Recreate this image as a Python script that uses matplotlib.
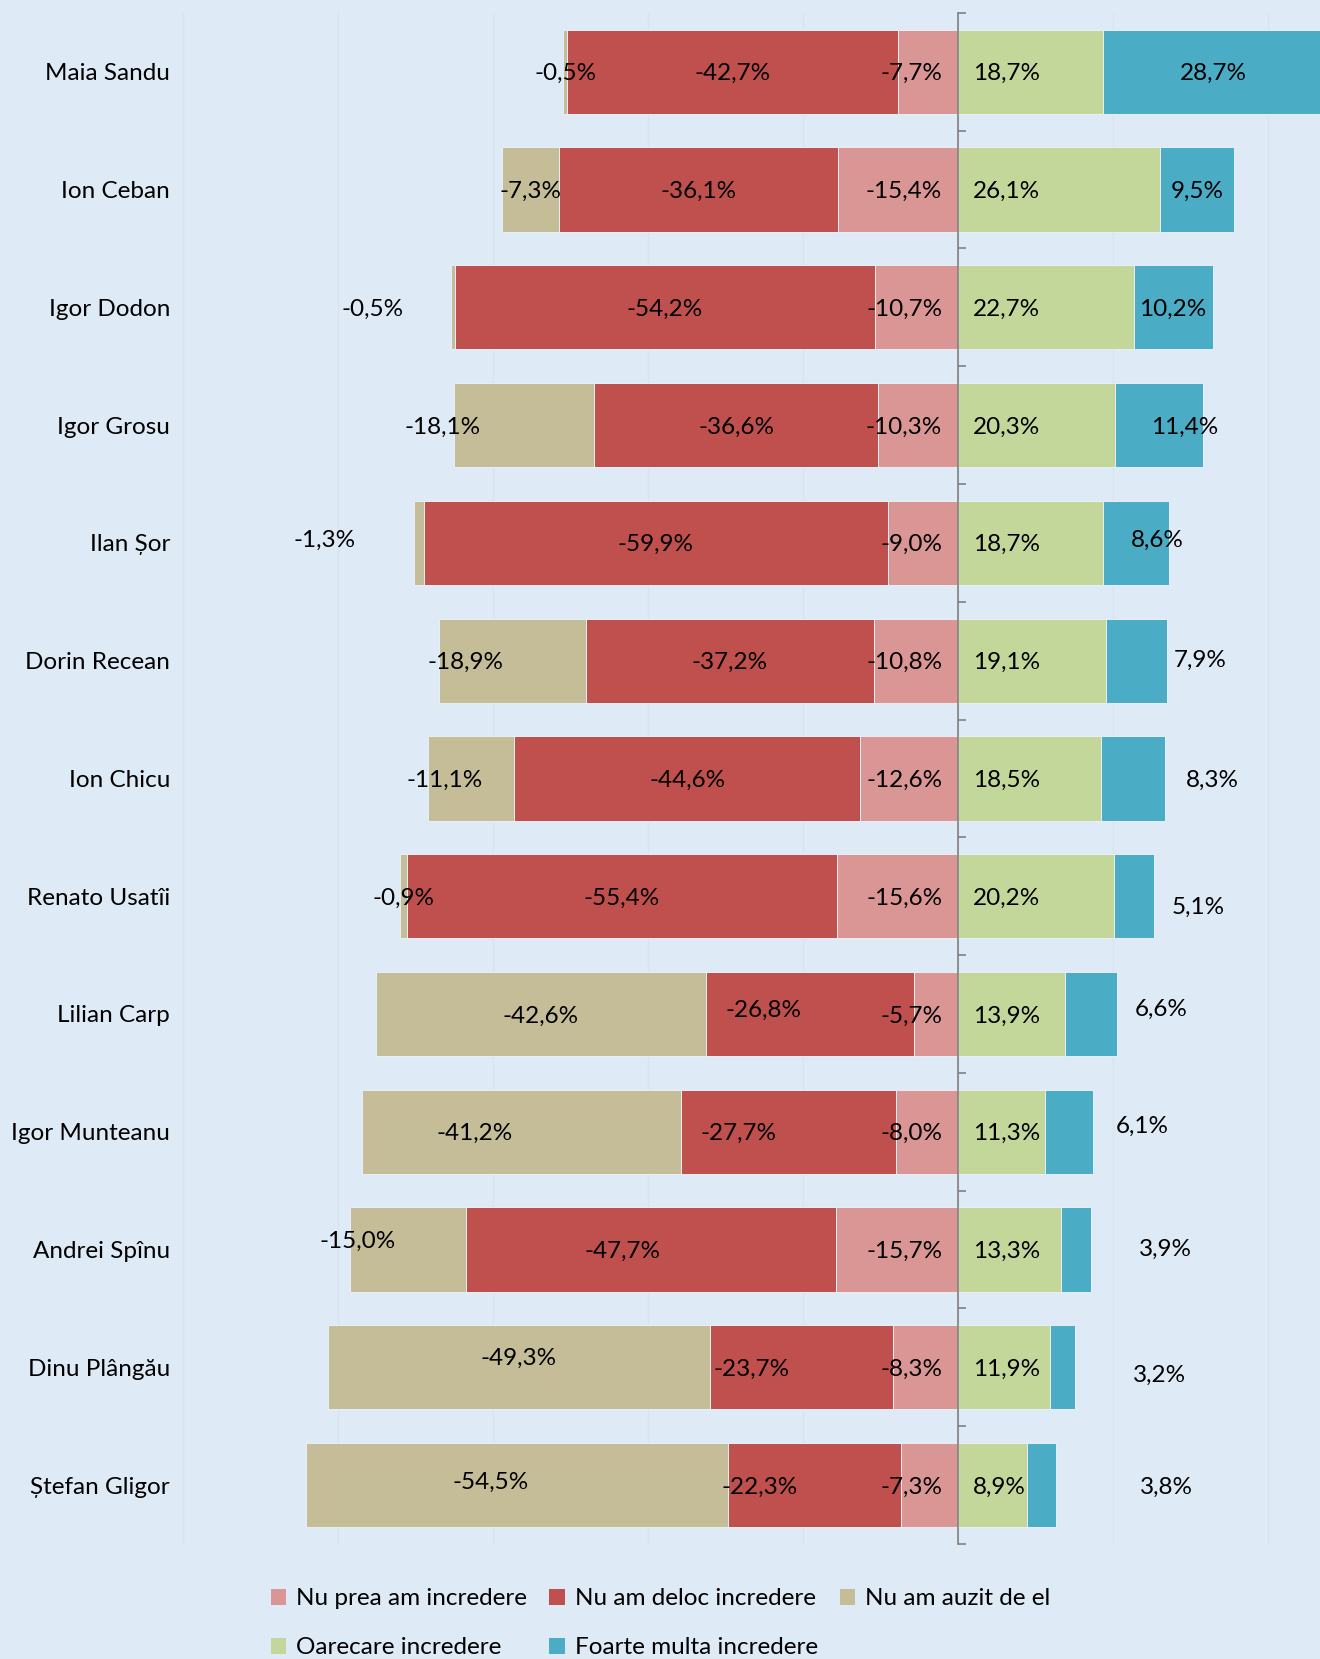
import numpy as np
import matplotlib.pyplot as plt
from matplotlib.patches import Patch

names = ['Maia Sandu', 'Ion Ceban', 'Igor Dodon', 'Igor Grosu', 'Ilan Șor',
         'Dorin Recean', 'Ion Chicu', 'Renato Usatîi', 'Lilian Carp',
         'Igor Munteanu', 'Andrei Spînu', 'Dinu Plângău', 'Ștefan Gligor']

nu_prea = np.array([7.7, 15.4, 10.7, 10.3, 9.0, 10.8, 12.6, 15.6, 5.7, 8.0, 15.7, 8.3, 7.3])
deloc = np.array([42.7, 36.1, 54.2, 36.6, 59.9, 37.2, 44.6, 55.4, 26.8, 27.7, 47.7, 23.7, 22.3])
auzit = np.array([0.5, 7.3, 0.5, 18.1, 1.3, 18.9, 11.1, 0.9, 42.6, 41.2, 15.0, 49.3, 54.5])
oarecare = np.array([18.7, 26.1, 22.7, 20.3, 18.7, 19.1, 18.5, 20.2, 13.9, 11.3, 13.3, 11.9, 8.9])
foarte = np.array([28.7, 9.5, 10.2, 11.4, 8.6, 7.9, 8.3, 5.1, 6.6, 6.1, 3.9, 3.2, 3.8])

legend_labels = ['Nu prea am incredere', 'Nu am deloc incredere', 'Nu am auzit de el',
                 'Oarecare incredere', 'Foarte multa incredere']

# label nudges (data units) where the original labels were moved by hand
auzit_dx = [0, 0, -10.4, -10.5, -12.1, -6.0, -3.5, 0, 0, -6.0, -6.5, 0, -3.4]
auzit_dy = [0, 0, 0, 0, -0.04, 0, 0, 0, 0, 0, -0.09, -0.09, -0.04]
deloc_dx = [0, 0, 0, 0, 0, 0, 0, 0, -6.0, -6.4, -3.7, -6.5, -7.1]
deloc_dy = [0, 0, 0, 0, 0, 0, 0, 0, -0.05, 0, 0, 0, 0]
foarte_dx = [0, 0, 0, 3.3, 2.7, 8.2, 10.2, 8.3, 9.1, 9.5, 11.5, 12.5, 16.1]
foarte_dy = [0, 0, 0, 0, -0.04, -0.02, 0, 0.08, -0.06, -0.06, -0.02, 0.05, 0]

bg = '#deeaf6'
c_prea = '#da9694'
c_deloc = '#c0504d'
c_auzit = '#c4bd97'
c_oare = '#c4d79b'
c_foarte = '#4bacc6'

plt.rcParams['font.family'] = ['Lato', 'DejaVu Sans']
fs = 17.5

fig = plt.figure(figsize=(13.2, 16.59), dpi=100, facecolor=bg)
ax = fig.add_axes([0.1325, 0.0693, 0.8678, 0.923])
ax.set_facecolor(bg)

y = np.arange(len(names))
h = 0.715
edge = dict(edgecolor='#e9eff6', linewidth=0.7)

left1 = -nu_prea
left2 = left1 - deloc
ax.barh(y, -nu_prea, left=0, height=h, color=c_prea, **edge)
ax.barh(y, -deloc, left=left1, height=h, color=c_deloc, **edge)
ax.barh(y, -auzit, left=left2, height=h, color=c_auzit, **edge)
ax.barh(y, oarecare, left=0, height=h, color=c_oare, **edge)
ax.barh(y, foarte, left=oarecare, height=h, color=c_foarte, **edge)


def fmt(v):
    return f'{v:.1f}%'.replace('.', ',')


va = 'center_baseline'
for i in y:
    ax.text(-2.0, i, '-' + fmt(nu_prea[i]), ha='right', va=va, fontsize=fs)
    ax.text(left1[i] - deloc[i] / 2 + deloc_dx[i], i + deloc_dy[i], '-' + fmt(deloc[i]),
            ha='center', va=va, fontsize=fs)
    ax.text(left2[i] - auzit[i] / 2 + auzit_dx[i], i + auzit_dy[i], '-' + fmt(auzit[i]),
            ha='center', va=va, fontsize=fs)
    ax.text(2.0, i, fmt(oarecare[i]), ha='left', va=va, fontsize=fs)
    ax.text(oarecare[i] + foarte[i] / 2 + foarte_dx[i], i + foarte_dy[i], fmt(foarte[i]),
            ha='center', va=va, fontsize=fs)

ax.set_xlim(-101, 46.8)
ax.set_ylim(len(names) - 0.5, -0.5)
ax.set_xticks(np.arange(-100, 41, 20))
ax.tick_params(axis='x', bottom=False, labelbottom=False)
ax.grid(axis='x', color='#d8e4f0', linewidth=1)
ax.set_axisbelow(True)

ax.set_yticks(y)
ax.set_yticklabels(names)
ax.set_yticks(np.arange(-0.5, len(names), 1), minor=True)
ax.tick_params(axis='y', which='major', left=False, right=False, labelleft=True,
               labelright=False, pad=0, labelsize=fs)
ax.tick_params(axis='y', which='minor', left=False, right=True, direction='out',
               length=5.5, width=1.2, color='#808080')

for s in ['top', 'left', 'bottom']:
    ax.spines[s].set_visible(False)
ax.spines['right'].set_position(('data', 0))
ax.spines['right'].set_color('#808080')
ax.spines['right'].set_linewidth(1.2)

colors = [c_prea, c_deloc, c_auzit, c_oare, c_foarte]
handles = [Patch(facecolor=c, edgecolor='none', label=l) for c, l in zip(colors, legend_labels)]
order = [0, 3, 1, 4, 2]
fig.legend([handles[k] for k in order], [legend_labels[k] for k in order],
           ncol=3, loc='upper left', bbox_to_anchor=(0.205, 0.0425), frameon=False,
           fontsize=fs, handlelength=0.65, handleheight=0.65, handletextpad=0.4,
           columnspacing=0.9, labelspacing=1.15, borderpad=0, borderaxespad=0)

fig.savefig('out.png', dpi=100, facecolor=bg)
